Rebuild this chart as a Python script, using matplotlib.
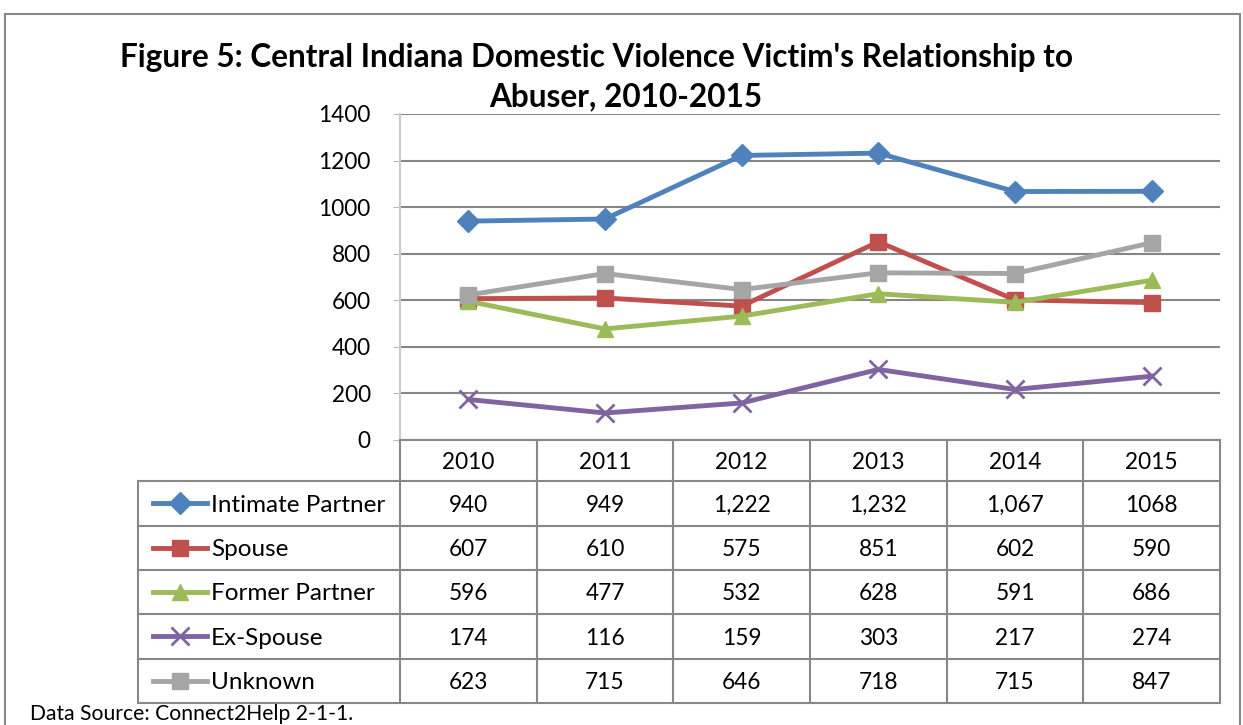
import numpy as np
import matplotlib.pyplot as plt

years = ["2010", "2011", "2012", "2013", "2014", "2015"]
series_names = ["Intimate Partner", "Spouse", "Former Partner", "Ex-Spouse", "Unknown"]
intimate_partner = [940, 949, 1222, 1232, 1067, 1068]
spouse = [607, 610, 575, 851, 602, 590]
former_partner = [596, 477, 532, 628, 591, 686]
ex_spouse = [174, 116, 159, 303, 217, 274]
unknown = [623, 715, 646, 718, 715, 847]
table_text = [
    ["940", "949", "1,222", "1,232", "1,067", "1068"],
    ["607", "610", "575", "851", "602", "590"],
    ["596", "477", "532", "628", "591", "686"],
    ["174", "116", "159", "303", "217", "274"],
    ["623", "715", "646", "718", "715", "847"],
]

colors = ["#4F81BD", "#C0504D", "#9BBB59", "#8064A2", "#A5A5A5"]
markers = ["D", "s", "^", "x", "s"]
msizes = [11, 11, 12, 13, 11]
all_series = [intimate_partner, spouse, former_partner, ex_spouse, unknown]

plt.rcParams['font.family'] = ['Lato', 'DejaVu Sans']

W, H = 1243, 725
fig = plt.figure(figsize=(W / 100, H / 100), dpi=100)

def fx(px):
    return px / W

def fy(py):
    return 1 - py / H

# outer border of the chart object
fig.add_artist(plt.Rectangle((fx(5), fy(740)), fx(1235), (740 - 14) / H,
                             fill=False, edgecolor="#888888", lw=1.5, transform=fig.transFigure))

# main plot area
ax = fig.add_axes([fx(400), fy(440), fx(820), (440 - 114) / H])
x = np.arange(len(years))
for vals, c, m, ms in zip(all_series, colors, markers, msizes):
    mew = 2 if m == "x" else 1
    ax.plot(x, vals, color=c, lw=3.5, marker=m, markersize=ms, markeredgewidth=mew,
            markeredgecolor=c, zorder=3)
ax.set_xlim(-0.5, 5.5)
ax.set_ylim(0, 1400)
ax.set_yticks(np.arange(0, 1401, 200))
ax.tick_params(axis="y", labelsize=16.3, length=5, color="#BBBBBB", pad=16)
ax.set_xticks([])
ax.grid(axis="y", color="#868686", lw=1.5)
ax.set_axisbelow(True)
for s in ["top", "right", "bottom"]:
    ax.spines[s].set_visible(False)
ax.spines["left"].set_color("#CCCCCC")
ax.spines["left"].set_linewidth(1.5)

# data table below the plot
unit = 820 / 6
left_units = (400 - 138) / unit
tab = fig.add_axes([fx(138), fy(703), fx(1220 - 138), (703 - 440) / H])
tab.set_xlim(-0.5 - left_units, 5.5)
tab.set_ylim(5.93, 0)
tab.axis("off")
row_edges = [0, 0.93, 1.93, 2.93, 3.93, 4.93, 5.93]
tcol = "#888888"
lw = 1.5
xl = -0.5 - left_units
# horizontal lines
tab.plot([-0.5, 5.5], [0, 0], color=tcol, lw=lw, clip_on=False)
for yv in row_edges[1:]:
    tab.plot([xl, 5.5], [yv, yv], color=tcol, lw=lw, clip_on=False)
# vertical lines
for xv in np.arange(-0.5, 5.6, 1):
    tab.plot([xv, xv], [0, row_edges[-1]], color=tcol, lw=lw, clip_on=False)
tab.plot([xl, xl], [row_edges[1], row_edges[-1]], color=tcol, lw=lw, clip_on=False)

for i, yr in enumerate(years):
    tab.text(i, 0.5, yr, ha="center", va="center", fontsize=16.3)
for r in range(5):
    yc = (row_edges[r + 1] + row_edges[r + 2]) / 2
    for i in range(6):
        tab.text(i, yc + 0.04, table_text[r][i], ha="center", va="center", fontsize=16.3)
    lx0 = xl + 15 / unit
    lx1 = xl + 69 / unit
    tab.plot([lx0, lx1], [yc, yc], color=colors[r], lw=3.5, clip_on=False)
    mew = 2 if markers[r] == "x" else 1
    tab.plot([(lx0 + lx1) / 2], [yc], marker=markers[r], color=colors[r],
             markersize=msizes[r], markeredgewidth=mew, clip_on=False)
    tab.text(xl + 73 / unit, yc + 0.04, series_names[r], ha="left", va="center", fontsize=17.5)

# title
fig.text(fx(596), fy(57), "Figure 5: Central Indiana Domestic Violence Victim's Relationship to",
         ha="center", va="center", fontsize=22.7, fontweight="bold")
fig.text(fx(626), fy(97), "Abuser, 2010-2015", ha="center", va="center",
         fontsize=22.7, fontweight="bold")

fig.text(fx(30), fy(714), "Data Source: Connect2Help 2-1-1.", ha="left", va="center", fontsize=15.2)

fig.savefig("out.png", dpi=100)
